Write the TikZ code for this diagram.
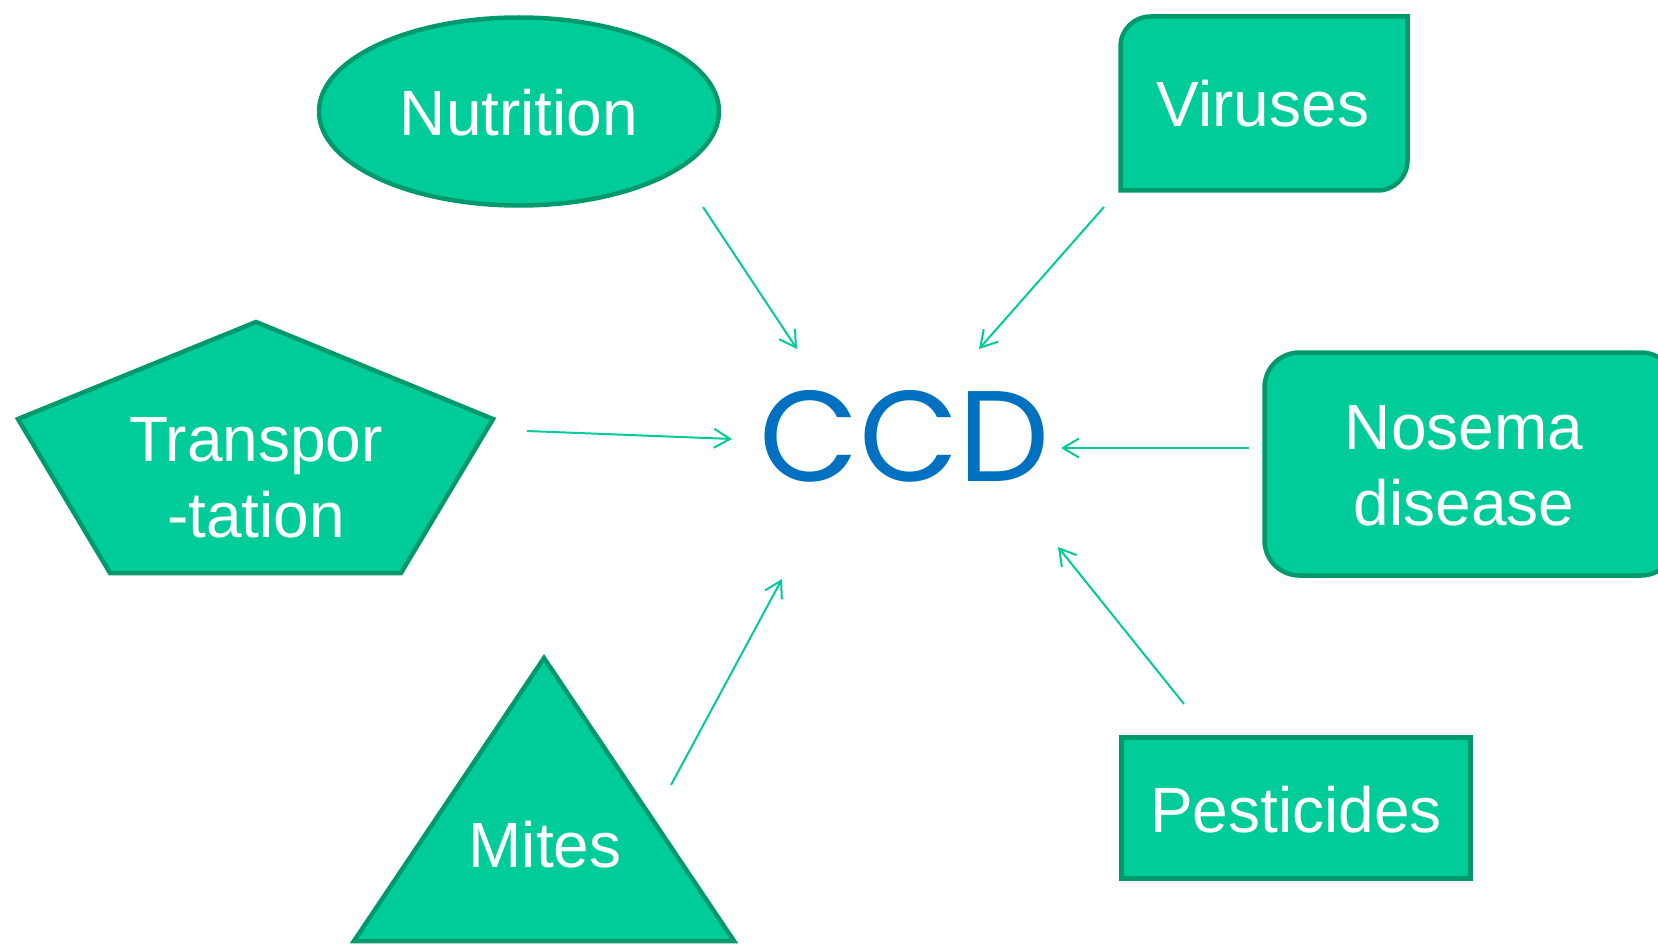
\documentclass[tikz,border=0pt]{standalone}
\usepackage{fontspec}
\setmainfont{Liberation Sans}
\newfontfamily\ccdfont{Poppins}
\usetikzlibrary{arrows.meta}
\definecolor{fillg}{RGB}{0,204,153}
\definecolor{edgeg}{RGB}{0,153,108}
\definecolor{ccdblue}{RGB}{0,112,192}
\begin{document}
\begin{tikzpicture}[x=1pt,y=-1pt,
  shapebox/.style={fill=fillg,draw=edgeg,line width=4.5pt,line join=miter},
  lbl/.style={text=white,font=\fontsize{64}{76}\selectfont,inner sep=0pt,align=center},
  conn/.style={draw=fillg,line width=2pt,-{Straight Barb[length=16pt,width=19pt,line width=2pt]}}]
\useasboundingbox (0,0) rectangle (1658,944);
\clip (0,0) rectangle (1658,944);
% shapes
\draw[shapebox] (519,111.5) ellipse [x radius=200, y radius=94];
\draw[shapebox] (1120.5,190.5) -- (1120.5,46.5)
  .. controls (1120.5,29.9) and (1133.9,16.5) .. (1150.5,16.5)
  -- (1407.5,16.5) -- (1407.5,160.5)
  .. controls (1407.5,177.1) and (1394.1,190.5) .. (1377.5,190.5) -- cycle;
\draw[shapebox] (256,322) -- (493,419) -- (401,573) -- (110,573) -- (18,419) -- cycle;
\draw[shapebox, rounded corners=35pt] (1264.5,352.5) rectangle (1676,575.5);
\draw[shapebox] (544,658) -- (734,941) -- (354,941) -- cycle;
\draw[shapebox] (1121.5,737.5) rectangle (1470.5,878.5);
% labels
\node[lbl, anchor=base] (nutri) at (519,136) {Nutrition};
\node[lbl, anchor=base] (vir) at (1263,127) {Viruses};
\node[lbl, anchor=base] (trans) at (256,537) {Transpor\\-tation};
\node[lbl, anchor=base] (nos) at (1464,525) {Nosema\\disease};
\node[lbl, anchor=base] (mit) at (545,867) {Mites};
\node[lbl, anchor=base] (pest) at (1296,832) {Pesticides};
\node[text=ccdblue, font=\ccdfont\fontsize{129}{129}\selectfont, inner sep=0pt, anchor=base] (ccd) at (905,481) {CCD};
% connector ends
\coordinate (n1) at (703,207);  \coordinate (n2) at (797,349);
\coordinate (v1) at (1104,207); \coordinate (v2) at (979,349);
\coordinate (t1) at (527,431);  \coordinate (t2) at (732,439);
\coordinate (o1) at (1249,448); \coordinate (o2) at (1061,448);
\coordinate (m1) at (671,785);  \coordinate (m2) at (782,579);
\coordinate (p1) at (1184,704); \coordinate (p2) at (1058,547);
\draw[conn] (n1) -- (n2);
\draw[conn] (v1) -- (v2);
\draw[conn] (t1) -- (t2);
\draw[conn] (o1) -- (o2);
\draw[conn] (m1) -- (m2);
\draw[conn] (p1) -- (p2);
\end{tikzpicture}
\end{document}
